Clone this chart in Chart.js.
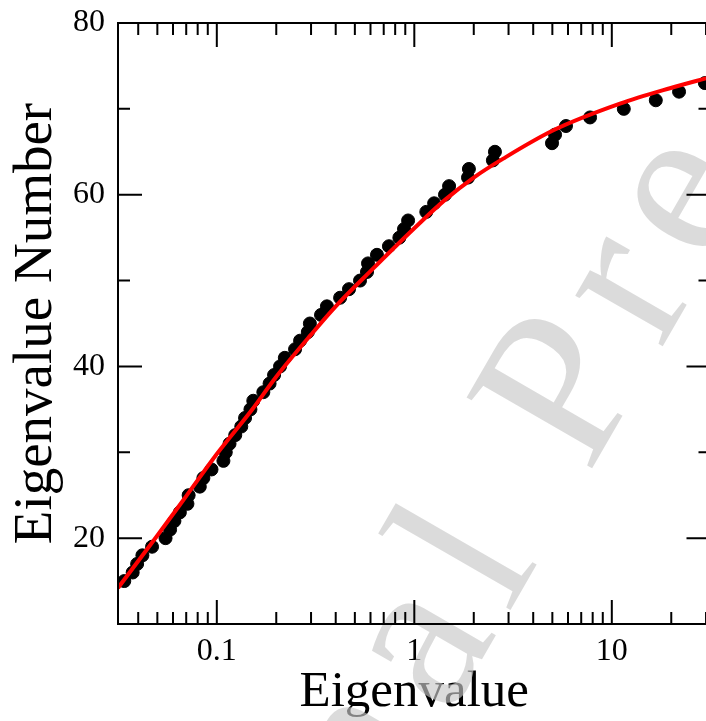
<!DOCTYPE html>
<html lang="en">
<head>
  <meta charset="UTF-8">
  <title>Eigenvalue Number vs Eigenvalue</title>
  <script src="https://cdn.jsdelivr.net/npm/chart.js"></script>
  <style>
    html, body {
      margin: 0;
      padding: 0;
      background: #fff;
      overflow: hidden;
    }
    canvas {
      display: block;
    }
  </style>
</head>
<body>
  <canvas id="chart" width="740" height="721"></canvas>

<script>
// measured eigenvalues (x) and their index (y)
const eigenNumber = [15, 16, 17, 18, 19, 20, 21, 22, 23, 24, 25, 26, 27, 28, 29, 30, 31, 32, 33, 34,
  35, 36, 37, 38, 39, 40, 41, 42, 43, 44, 45, 46, 47, 48, 49, 50, 51, 52, 53, 54,
  55, 56, 57, 58, 59, 60, 61, 62, 63, 64, 65, 66, 67, 68, 69, 70, 71, 72, 73];
const eigenValue = [0.034, 0.0375, 0.0395, 0.042, 0.047, 0.055, 0.058, 0.061, 0.065, 0.071, 0.072, 0.082, 0.0855, 0.094, 0.108, 0.111, 0.116, 0.124, 0.133, 0.139,
  0.148, 0.153, 0.172, 0.185, 0.195, 0.209, 0.221, 0.249, 0.264, 0.289, 0.296, 0.337, 0.361, 0.421, 0.467, 0.531, 0.576, 0.583, 0.647, 0.744,
  0.84, 0.887, 0.93, 1.15, 1.26, 1.43, 1.50, 1.87, 1.89, 2.50, 2.56, 4.98, 5.16, 5.86, 7.76, 11.5, 16.7, 21.9, 29.6];

// red fitted curve
const fitX = [0.0316, 0.05, 0.07, 0.1, 0.15, 0.2, 0.3, 0.4, 0.6, 1.0, 1.43, 2.0, 2.82, 5.06, 11.0, 19.7, 31.6];
const fitY = [14.2, 20.3, 24.9, 29.8, 34.9, 38.8, 43.7, 47.0, 51.1, 56.1, 59.4, 62.0, 64.2, 67.5, 70.6, 72.4, 73.7];

// axes
const xMin = 0.0316, xMax = 31.6;
const yMin = 10, yMax = 80;
const xTickLabels = [0.1, 1, 10];
const xMinorTicks = [0.04, 0.05, 0.06, 0.07, 0.08, 0.09, 0.2, 0.3, 0.4, 0.5, 0.6, 0.7, 0.8, 0.9,
  2, 3, 4, 5, 6, 7, 8, 9, 20, 30];
const yTickLabels = [20, 40, 60, 80];
const yMinorTicks = [30, 50, 70];

const serif = "'Liberation Serif', 'Times New Roman', serif";

// inward ticks on all four sides plus the box
const frameTicks = {
  id: 'frameTicks',
  afterDatasetsDraw(chart) {
    const { ctx, chartArea: a, scales: { x, y } } = chart;
    const major = 24, minor = 12;
    ctx.save();
    ctx.strokeStyle = '#000';
    ctx.lineWidth = 2;
    ctx.beginPath();
    const xt = (v, len) => {
      const px = x.getPixelForValue(v);
      ctx.moveTo(px, a.bottom); ctx.lineTo(px, a.bottom - len);
      ctx.moveTo(px, a.top); ctx.lineTo(px, a.top + len);
    };
    const yt = (v, len) => {
      const py = y.getPixelForValue(v);
      ctx.moveTo(a.left, py); ctx.lineTo(a.left + len, py);
      ctx.moveTo(a.right, py); ctx.lineTo(a.right - len, py);
    };
    xTickLabels.forEach(v => xt(v, major));
    xMinorTicks.forEach(v => xt(v, minor));
    yTickLabels.forEach(v => yt(v, major));
    yMinorTicks.forEach(v => yt(v, minor));
    ctx.stroke();
    ctx.strokeRect(a.left, a.top, a.right - a.left, a.bottom - a.top);
    ctx.restore();
  }
};

// faint "Journal Pre-proof" stamp across the figure
const watermark = {
  id: 'watermark',
  beforeDatasetsDraw(chart) {
    const ctx = chart.ctx;
    const text = 'Journal Pre-proof';
    ctx.save();
    ctx.font = '220px ' + serif;
    ctx.fillStyle = 'rgba(200, 200, 200, 0.65)';
    ctx.textBaseline = 'alphabetic';
    ctx.translate(149, 1236);
    ctx.rotate(-60 * Math.PI / 180);
    let cx = 0;
    for (const ch of text) {
      ctx.fillText(ch, cx, 0);
      cx += ctx.measureText(ch).width + 22;
    }
    ctx.restore();
  }
};

const ctx = document.getElementById('chart').getContext('2d');
new Chart(ctx, {
  type: 'scatter',
  data: {
    datasets: [
      {
        type: 'line',
        label: 'Fit',
        data: fitX.map((v, i) => ({ x: v, y: fitY[i] })),
        borderColor: '#ff0000',
        borderWidth: 4,
        pointRadius: 0,
        cubicInterpolationMode: 'monotone',
        fill: false
      },
      {
        label: 'Eigenvalues',
        data: eigenValue.map((v, i) => ({ x: v, y: eigenNumber[i] })),
        backgroundColor: '#000',
        borderColor: '#000',
        pointRadius: 6.5,
        pointHoverRadius: 6.5
      }
    ]
  },
  options: {
    responsive: false,
    animation: false,
    devicePixelRatio: 1,
    layout: { padding: { top: 23, right: 29.5, left: 0, bottom: 0 } },
    plugins: {
      legend: { display: false },
      tooltip: { enabled: false }
    },
    scales: {
      x: {
        type: 'logarithmic',
        min: xMin,
        max: xMax,
        grid: { display: false, drawTicks: false },
        border: { display: false },
        afterBuildTicks: s => { s.ticks = xTickLabels.map(v => ({ value: v })); },
        afterFit: s => { s.height = 97; s.paddingLeft = 0; s.paddingRight = 0; },
        ticks: {
          color: '#000',
          padding: 8,
          maxRotation: 0,
          autoSkip: false,
          font: { family: serif, size: 32 },
          callback: v => String(v)
        },
        title: {
          display: true,
          text: 'Eigenvalue',
          color: '#000',
          padding: { top: 0, bottom: 3 },
          font: { family: serif, size: 51, lineHeight: 1 }
        }
      },
      y: {
        min: yMin,
        max: yMax,
        grid: { display: false, drawTicks: false },
        border: { display: false },
        afterBuildTicks: s => { s.ticks = yTickLabels.map(v => ({ value: v })); },
        afterFit: s => { s.width = 118; s.paddingTop = 0; s.paddingBottom = 0; },
        ticks: {
          color: '#000',
          padding: 13,
          font: { family: serif, size: 32 }
        },
        title: {
          display: true,
          text: 'Eigenvalue Number',
          color: '#000',
          padding: { top: 4, bottom: 0 },
          font: { family: serif, size: 55 }
        }
      }
    }
  },
  plugins: [watermark, frameTicks]
});
</script>
</body>
</html>
